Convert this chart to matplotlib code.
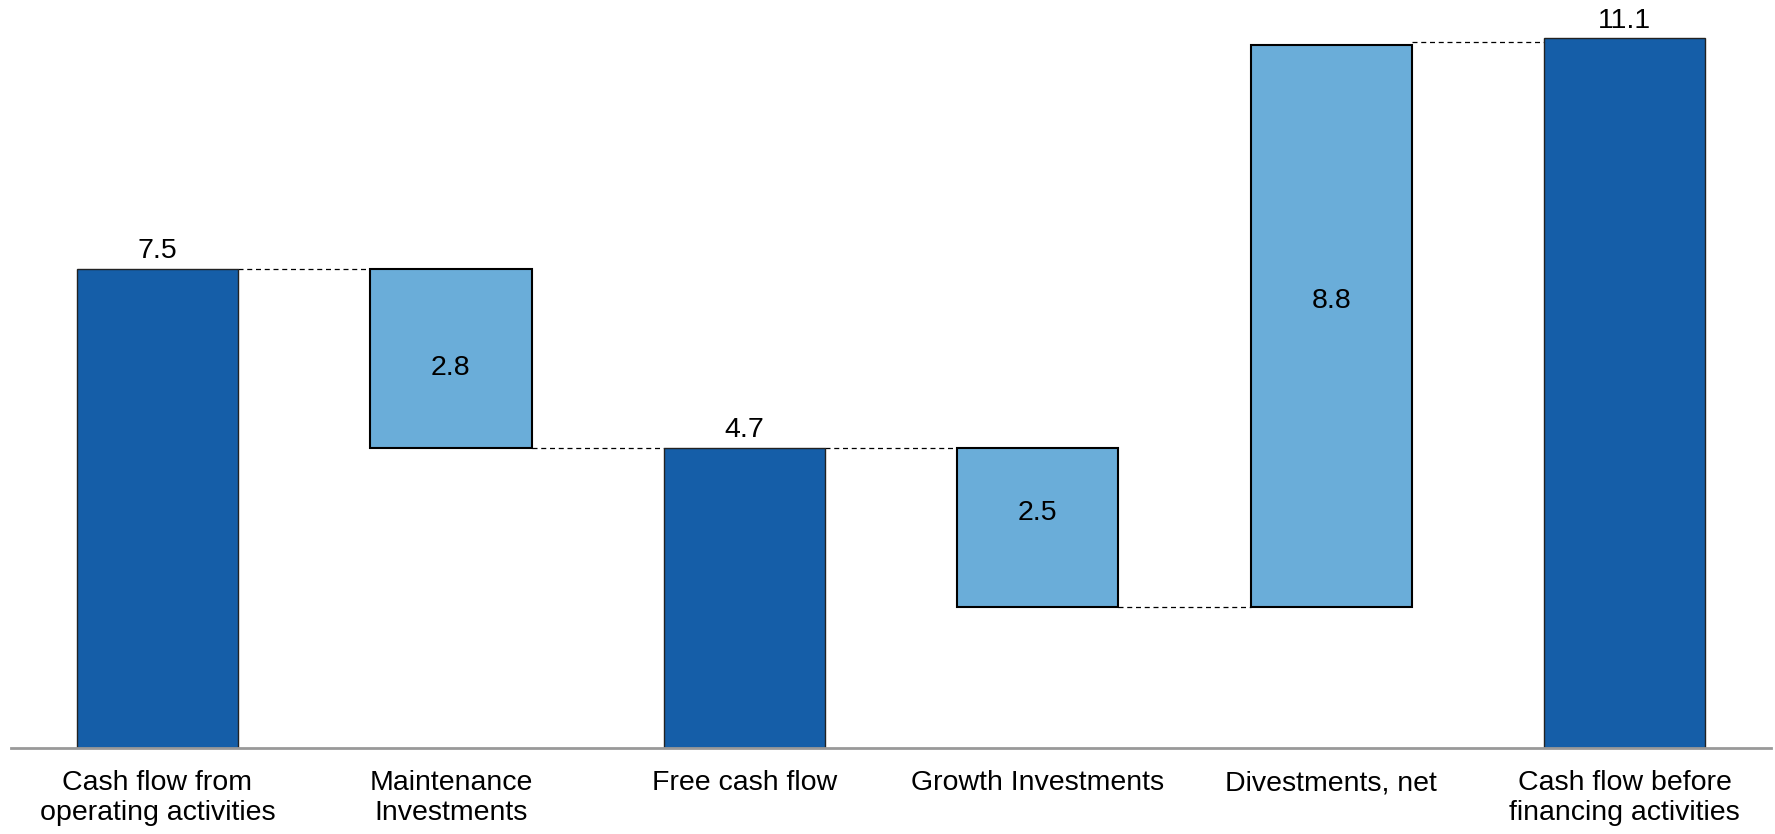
import matplotlib.pyplot as plt
import numpy as np

plt.rcParams['font.family'] = ['Liberation Sans', 'DejaVu Sans']

# ===================== data =====================
categories = ['Cash flow from\noperating activities', 'Maintenance\nInvestments',
              'Free cash flow', 'Growth Investments', 'Divestments, net',
              'Cash flow before\nfinancing activities']
# signed step values; totals are full bars from zero
values = [7.5, -2.8, 4.7, -2.5, 8.8, 11.1]
is_total = [True, False, True, False, False, True]
labels = ['7.5', '2.8', '4.7', '2.5', '8.8', '11.1']
# vertical position of labels inside floating bars
inner_label_y = [None, 5.95, None, 3.68, 7.0, None]

dark = '#155EA8'
light = '#6AADD9'

# ===================== bar geometry =====================
bottoms, heights = [], []
running = 0.0
for v, tot in zip(values, is_total):
    if tot:
        bottoms.append(0.0)
        heights.append(v)
        running = v
    else:
        start = running
        running = running + v
        bottoms.append(min(start, running))
        heights.append(abs(v))

fig = plt.figure(figsize=(17.75, 8.34), dpi=100)
ax = fig.add_axes([0.006, 0.103, 0.992, 0.897])

x = np.arange(len(values))
w = 0.55
fs = 20.5
for i in range(len(values)):
    if is_total[i]:
        ax.bar(x[i], heights[i], bottom=bottoms[i], width=w, color=dark,
               edgecolor='#222222', linewidth=1.0, zorder=3)
        ax.text(x[i], bottoms[i] + heights[i] + 0.07, labels[i], ha='center',
                va='bottom', fontsize=fs, color='black')
    else:
        ax.bar(x[i], heights[i], bottom=bottoms[i], width=w, color=light,
               edgecolor='black', linewidth=1.5, zorder=3)
        ax.text(x[i], inner_label_y[i], labels[i], ha='center', va='center',
                fontsize=fs, color='black', zorder=4)

# connectors between consecutive bars
levels = []
running = 0.0
for v, tot in zip(values, is_total):
    running = v if tot else running + v
    levels.append(running)
for i in range(len(values) - 1):
    lvl = levels[i]
    if is_total[i + 1]:
        lvl = (levels[i] + values[i + 1]) / 2
    ax.plot([x[i] + w / 2, x[i + 1] - w / 2], [lvl, lvl], ls=(0, (4, 3)),
            color='black', lw=0.9, zorder=2)

ax.set_xlim(-0.5, len(values) - 0.5)
ax.set_ylim(0, 11.7)
ax.set_yticks([])
ax.set_xticks(x)
ax.set_xticklabels(categories, fontsize=fs, linespacing=1.2)
ax.tick_params(axis='x', length=0, pad=16)
for s in ['top', 'right', 'left']:
    ax.spines[s].set_visible(False)
ax.spines['bottom'].set_color('#999999')
ax.spines['bottom'].set_linewidth(2)
ax.spines['bottom'].set_zorder(5)

fig.savefig('out.png', dpi=100)
